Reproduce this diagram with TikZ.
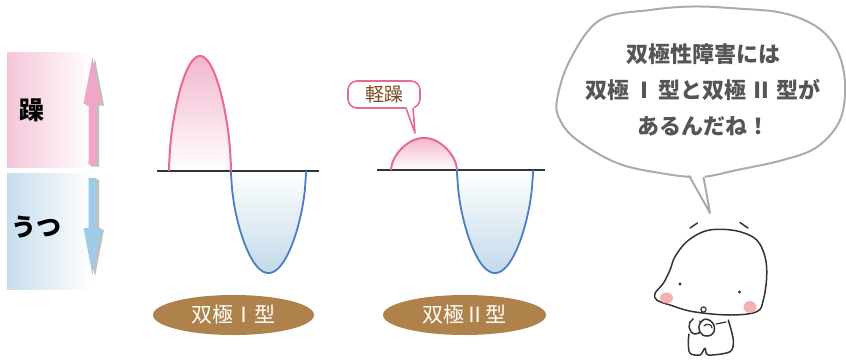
\documentclass[tikz,border=0pt]{standalone}
\usepackage{fontspec}
\newfontfamily\jp{Noto Sans CJK JP}
\usetikzlibrary{shapes.geometric,shadows}

\definecolor{maniaBox}{HTML}{F5C6DA}
\definecolor{depBox}{HTML}{C6DEEC}
\definecolor{maniaArrow}{HTML}{F0A6C8}
\definecolor{depArrow}{HTML}{9ECCE8}
\definecolor{pinkLine}{HTML}{EA6A8E}
\definecolor{pinkFill}{HTML}{F3B6CF}
\definecolor{blueLine}{HTML}{4C7DC6}
\definecolor{blueFill}{HTML}{C2DAE9}
\definecolor{ovalBrown}{HTML}{AE824A}
\definecolor{hypoText}{HTML}{7A4A22}
\definecolor{bubbleLine}{HTML}{ABABAB}
\definecolor{bubbleText}{HTML}{555555}
\definecolor{inkLine}{HTML}{333333}
\definecolor{cheek}{HTML}{F4A3A6}

\tikzset{
  sidelabel/.style={font=\jp\bfseries\fontsize{25}{25}\selectfont, text=black, inner sep=0},
  axisline/.style={draw=black!80, line width=1.3},
  maniacurve/.style={draw=pinkLine, line width=2},
  depcurve/.style={draw=blueLine, line width=1.8},
  typeoval/.style={ellipse, fill=ovalBrown, text=white, inner sep=0,
    minimum height=40, font=\jp\fontsize{21}{21}\selectfont},
  hypobox/.style={draw=pinkLine, line width=1.6, fill=white, rounded corners=9,
    minimum width=72, minimum height=27, inner sep=0,
    text=hypoText, font=\jp\fontsize{19}{19}\selectfont},
  bubbletext/.style={align=center, text=bubbleText, inner sep=0,
    font=\jp\bfseries\fontsize{22}{36}\selectfont},
  arrowshadow/.style={drop shadow={shadow xshift=2.5pt, shadow yshift=-1.5pt, opacity=0.25, fill=black}},
  ink/.style={draw=inkLine, line width=1.5, line cap=round, line join=round},
}

% rounded half-wave: from x=#1 to x=#2 on baseline #3, extent #4 (negative = upwards)
\newcommand\halfwave[4]{(#1,#3) -- plot[domain=0.2:179.8, samples=70]
  ({#1+(#2-#1)*\x/180},{#3+(#4)*pow(sin(\x),0.55)}) -- (#2,#3)}

\begin{document}
\begin{tikzpicture}[x=1pt, y=-1pt]
\useasboundingbox (0,0) rectangle (846,359);

% --- mood scale on the left ---
\shade[left color=maniaBox, right color=white] (7,52) rectangle (92,167);
\shade[left color=depBox, right color=white] (7,173) rectangle (92,289);
\node[sidelabel] (mania) at (32,110) {躁};
\node[sidelabel] (dep) at (37,227) {うつ};

\fill[maniaArrow, arrowshadow] (92.5,57) -- (101.5,104) -- (96.5,104) -- (96.5,165)
  -- (88.5,165) -- (88.5,104) -- (83.5,104) -- cycle;
\fill[depArrow, arrowshadow] (92.5,275) -- (101.5,228) -- (96.5,228) -- (96.5,178)
  -- (88.5,178) -- (88.5,228) -- (83.5,228) -- cycle;

% --- bipolar I wave ---
\shade[top color=pinkFill, bottom color=white] \halfwave{169}{231}{171}{-115} -- cycle;
\shade[top color=white, bottom color=blueFill] \halfwave{231}{306}{171}{102} -- cycle;
\draw[axisline] (157,171) -- (319,171);
\draw[maniacurve] \halfwave{169}{231}{171}{-115};
\draw[depcurve] \halfwave{231}{306}{171}{102};

% --- bipolar II wave ---
\shade[top color=pinkFill, bottom color=white] \halfwave{391}{457}{170}{-32} -- cycle;
\shade[top color=white, bottom color=blueFill] \halfwave{457}{533}{170}{103} -- cycle;
\draw[axisline] (377,170) -- (545,170);
\draw[maniacurve] \halfwave{391}{457}{170}{-32};
\draw[depcurve] \halfwave{457}{533}{170}{103};

% --- hypomania callout ---
\node[hypobox] (hypo) at (384,94.5) {軽躁};
\coordinate (hypoTip) at (415,133);
\fill[white] (405.5,105.5) -- (hypoTip) -- (413.5,105.5) -- cycle;
\draw[pinkLine, line width=1.6, line join=round] (406,108) -- (hypoTip) -- (413,108);

% --- type labels ---
\node[typeoval, minimum width=161] (typeI) at (233.5,315) {双極Ⅰ型};
\node[typeoval, minimum width=163] (typeII) at (464.5,315) {双極Ⅱ型};

% --- speech bubble ---
\draw[bubbleLine, line width=2, fill=white] plot[smooth cycle, tension=0.6] coordinates {
  (557,100) (570,60) (600,20) (650,10) (693,6.5) (737,8.5) (783,13) (817,27)
  (837,50) (845,83) (840,120) (817,147) (783,160) (737,170) (700,177)
  (660,173) (617,163) (577,140) (560,120)};
\coordinate (bubbleTip) at (710,213);
\fill[white] (689,172) -- (bubbleTip) -- (704,172) -- cycle;
\draw[bubbleLine, line width=2, line join=round] (689,175.5) -- (bubbleTip) -- (703.5,177);
\node[bubbletext] (msg) at (703,90) {双極性障害には\\双極\,Ⅰ\,型と双極\,Ⅱ\,型が\\あるんだね！};

% --- little character ---
\draw[ink, fill=white] plot[smooth cycle, tension=0.6] coordinates {
  (656.7,300) (655,293.3) (663.3,283.3) (670,270) (675,256.7) (686.7,241.7)
  (703.3,231.7) (720,229.3) (740,231.7) (756.7,240) (765,256.7) (766.7,276.7)
  (763.3,300) (756.7,311.7) (730,315) (693.3,311.7) (670,305)};
\fill[cheek, opacity=0.85] (666.5,298) ellipse (6.5 and 5.5);
\fill[cheek, opacity=0.85] (750,307) ellipse (6.5 and 6);
\fill[inkLine] (680,284) circle (1.6);
\fill[inkLine] (739.5,292) circle (1.6);
\draw[ink, line width=1.2] (703.5,309.5) circle (2.6);
\draw[ink] (690,228) -- (697.5,223);
\draw[ink] (740,222.5) -- (748,228);
% body and legs
\draw[ink, fill=white] plot[smooth, tension=0.5] coordinates {
  (689,334) (688.3,343) (690,353.3) (700,355) (705,348.3) (708.3,355)
  (730,351.7) (733.3,340) (728.3,320)};
% hands
\draw[ink, fill=white] (693,319) .. controls (687,322) and (688,333) .. (695,334)
  .. controls (701,335) and (703,326) .. (700,321);
\draw[ink, fill=white] (701,322) .. controls (696,328) and (700,337) .. (708,336)
  .. controls (716,335) and (717,324) .. (709,320) .. controls (705,318) and (702,320) .. (701,322);
\draw[ink, line width=1.2] (704,326) .. controls (706,323) and (712,324) .. (712,328);
\draw[ink, line width=1.2] (716,324) -- (726,322);
\end{tikzpicture}
\end{document}
